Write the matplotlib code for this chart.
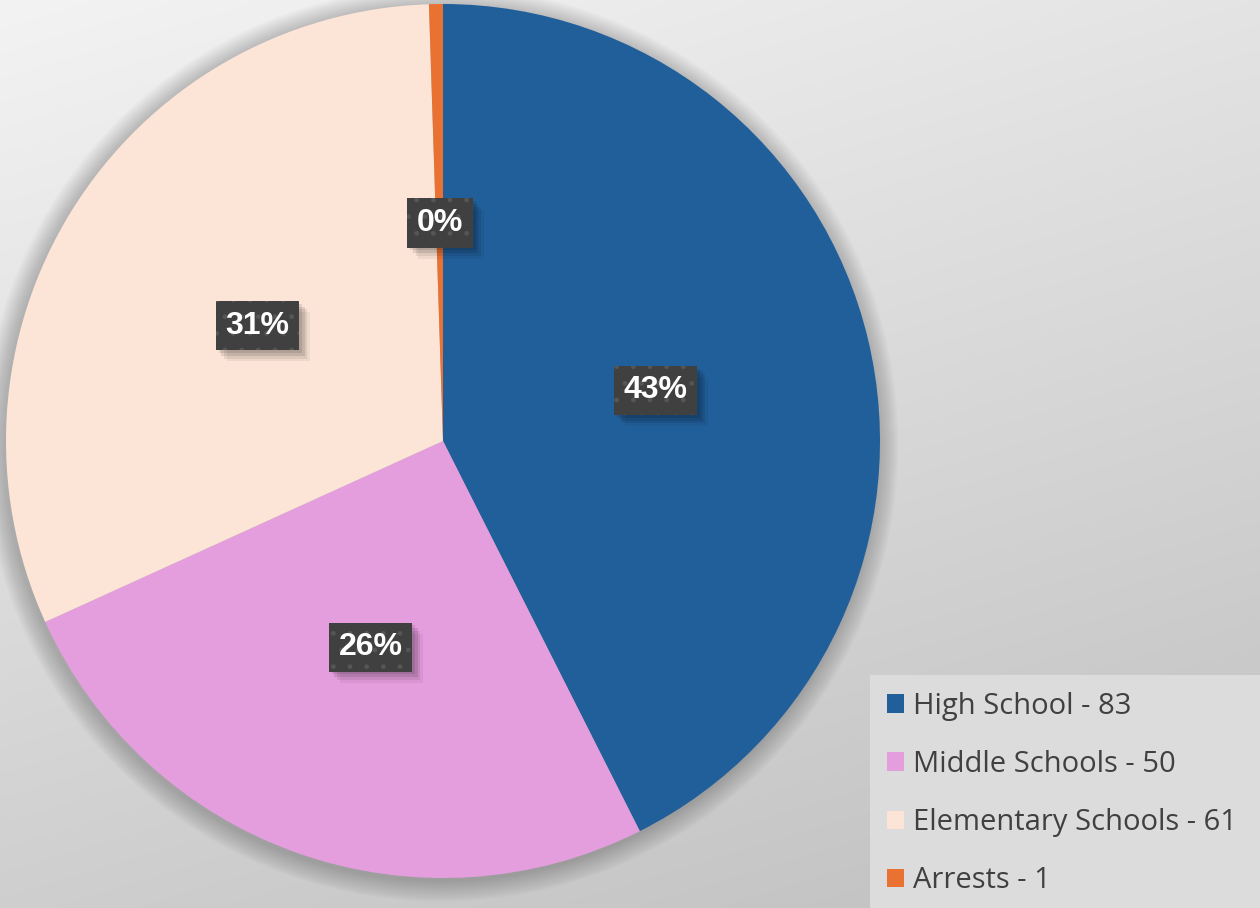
import matplotlib
matplotlib.use("Agg")
import matplotlib.pyplot as plt
import numpy as np
from matplotlib.patches import Circle, Rectangle
from matplotlib import patheffects as pe

categories = ["High School - 83", "Middle Schools - 50", "Elementary Schools - 61", "Arrests - 1"]
values = [83, 50, 61, 1]
pct_labels = ["43%", "26%", "31%", "0%"]
colors = ["#215f9a", "#e49edd", "#fce4d6", "#e97132"]


class SoftShadow(pe.AbstractPathEffect):
    def __init__(self, offset, alpha):
        super().__init__(offset)
        self.alpha = alpha

    def draw_path(self, renderer, gc, tpath, affine, rgbFace=None):
        gc0 = renderer.new_gc()
        gc0.copy_properties(gc)
        gc0.set_hatch(None)
        gc0.set_linewidth(0)
        gc0.set_alpha(self.alpha)
        renderer.draw_path(gc0, tpath, affine + self._offset_transform(renderer), (0, 0, 0))
        gc0.restore()


W, H = 1260, 908
fig = plt.figure(figsize=(W / 100, H / 100), dpi=100)

# background gradient
bg = fig.add_axes([0, 0, 1, 1])
bg.set_axis_off()
xx, yy = np.meshgrid(np.linspace(0, W, 200), np.linspace(0, H, 150))
v = (243 - 0.012 * xx - 0.040 * yy) / 255.0
img = np.dstack([v, v, v])
bg.imshow(img, extent=[0, W, H, 0], aspect="auto", interpolation="bilinear")
bg.set_xlim(0, W)
bg.set_ylim(H, 0)
# legend panel
bg.add_patch(Rectangle((870, 675), 400, 240, facecolor="#dcdcdc", edgecolor="none", zorder=3))

ax = fig.add_axes([0, 0, 1, 1])
ax.set_axis_off()
ax.patch.set_visible(False)

cx, cy, R = 443, 467, 437

# soft shadow around pie
for i in range(14):
    ax.add_patch(Circle((cx - 2, cy - 3), R + 1 + i * 1.5, facecolor="black",
                        edgecolor="none", alpha=0.015, zorder=1))

wedges, _ = ax.pie(values, colors=colors, startangle=90, counterclock=False,
                   radius=R, center=(cx, cy), labels=None,
                   wedgeprops=dict(linewidth=0), frame=True)
for w in wedges:
    w.set_zorder(2)
ax.set_xlim(0, W)
ax.set_ylim(0, H)
ax.set_aspect("equal")
ax.set_axis_off()

# percent labels
total = sum(values)
theta = 90.0
for val, lab in zip(values, pct_labels):
    span = 360.0 * val / total
    mid = np.deg2rad(theta - span / 2)
    theta -= span
    d = 0.5 * R
    x = cx + d * np.cos(mid)
    y = cy + d * np.sin(mid)
    if lab == "0%":
        x, y = 440, H - 223
    t = ax.text(x, y, lab, ha="center", va="center", fontsize=23,
                fontweight="bold", family="Liberation Sans", color="white", zorder=5,
                bbox=dict(boxstyle="square,pad=0.3", facecolor="#404040",
                          edgecolor="#565656", hatch=".", linewidth=0))
    t.get_bbox_patch().set_path_effects([
        SoftShadow((8, -8), 0.05),
        SoftShadow((6, -6), 0.08),
        SoftShadow((4, -4), 0.10),
        SoftShadow((2, -2), 0.10),
        pe.Normal()])

leg = fig.legend(wedges, categories, loc="upper left",
                 bbox_to_anchor=(878 / W, 1 - 683 / H),
                 frameon=False,
                 prop=dict(family="Open Sans", size=21),
                 handlelength=0.6, handleheight=0.6, handletextpad=0.3,
                 labelspacing=1.0, borderpad=0.3, borderaxespad=0)
for t in leg.get_texts():
    t.set_color("#404040")

fig.savefig("out.png", dpi=100)
